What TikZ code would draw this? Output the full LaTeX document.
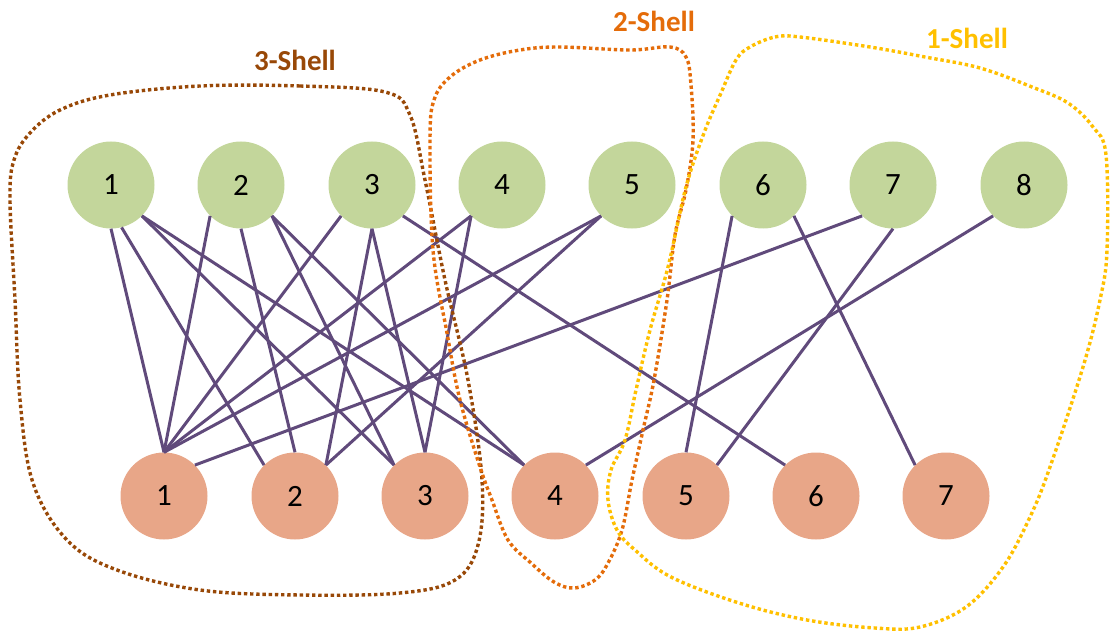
\documentclass[tikz,border=0pt]{standalone}
\usepackage{fontspec}
\setmainfont{Carlito}
\definecolor{topfill}{RGB}{195,214,155}
\definecolor{botfill}{RGB}{232,166,136}
\definecolor{edgecol}{RGB}{96,74,123}
\definecolor{shellthree}{RGB}{152,72,7}
\definecolor{shelltwo}{RGB}{228,108,10}
\definecolor{shellone}{RGB}{255,192,0}
\begin{document}
\begin{tikzpicture}[x=1pt,y=-1pt,
  vert/.style={circle,minimum size=87pt,inner sep=0pt,font=\fontsize{31}{31}\selectfont},
  topv/.style={vert,fill=topfill},
  botv/.style={vert,fill=botfill},
  link/.style={draw=edgecol,line width=3pt},
  shell/.style={line width=3.4pt,dash pattern=on 3.4pt off 2.8pt},
  shelllabel/.style={font=\bfseries\fontsize{29}{29}\selectfont}]
\useasboundingbox (0,0) rectangle (1110,631);
% top vertices
\foreach \i/\x in {1/111,2/241,3/372,4/502,5/632,6/763,7/893,8/1024}
  \node[topv] (T\i) at (\x,185) {\i};
% bottom vertices
\foreach \i/\x in {1/164,2/295,3/425,4/555,5/686,6/816,7/946}
  \node[botv] (B\i) at (\x,496) {\i};
% edges
\draw[link] (T1.south) -- (B1.north);
\draw[link] (T1.-76) -- (B2.135);
\draw[link] (T1.-45) -- (B3.135);
\draw[link] (T1.-45) -- (B4.135);
\draw[link] (T2.-135) -- (B1.north);
\draw[link] (T2.south) -- (B2.north);
\draw[link] (T2.-45) -- (B3.135);
\draw[link] (T2.-45) -- (B4.135);
\draw[link] (T3.-135) -- (B1.north);
\draw[link] (T3.south) -- (B2.45);
\draw[link] (T3.south) -- (B3.north);
\draw[link] (T3.-45) -- (B6.135);
\draw[link] (T4.-135) -- (B1.north);
\draw[link] (T4.-135) -- (B3.north);
\draw[link] (T5.-135) -- (B1.north);
\draw[link] (T5.-135) -- (B2.45);
\draw[link] (T6.-135) -- (B5.north);
\draw[link] (T6.-45) -- (B7.135);
\draw[link] (T7.-135) -- (B1.45);
\draw[link] (T7.south) -- (B5.45);
\draw[link] (T8.-135) -- (B4.45);
% shells
\draw[shell,draw=shellthree] plot[smooth cycle,tension=0.6] coordinates {
  (200,86) (300,86) (385,92) (410,115) (425,180) (445,280) (468,380)
  (482,480) (478,545) (455,580) (400,593) (300,595) (200,590) (117,570)
  (67,540) (33,483) (20,400) (15,300) (10,200) (14,160) (30,133) (60,110) (110,95)};
\draw[shell,draw=shelltwo] plot[smooth cycle,tension=0.6] coordinates {
  (430,140) (434,100) (450,77) (480,60) (520,50) (560,47) (630,50) (670,47)
  (686,57) (691,85) (693,140) (686,190) (675,235) (667,300) (654,380)
  (643,430) (632,480) (622,530) (608,563) (595,580) (574,588) (554,582)
  (531,563) (508,540) (492,500) (480,467) (460,400) (447,333) (433,250)};
\draw[shell,draw=shellone] plot[smooth cycle,tension=0.6] coordinates {
  (750,47) (775,37) (800,37) (870,47) (925,57) (980,68) (1032,87) (1068,103)
  (1093,127) (1106,155) (1107,250) (1100,300) (1083,367) (1050,467)
  (1030,517) (1003,567) (966,607) (920,627) (875,628) (807,620) (739,603)
  (671,577) (635,550) (617,530) (608,500) (611,470) (625,440) (636,390)
  (650,330) (668,267) (686,187) (704,133) (721,93) (736,60)};
% labels
\node[shelllabel,text=shellthree] (L3) at (295,60) {3-Shell};
\node[shelllabel,text=shelltwo] (L2) at (654,21) {2-Shell};
\node[shelllabel,text=shellone] (L1) at (967,38) {1-Shell};
\end{tikzpicture}
\end{document}
